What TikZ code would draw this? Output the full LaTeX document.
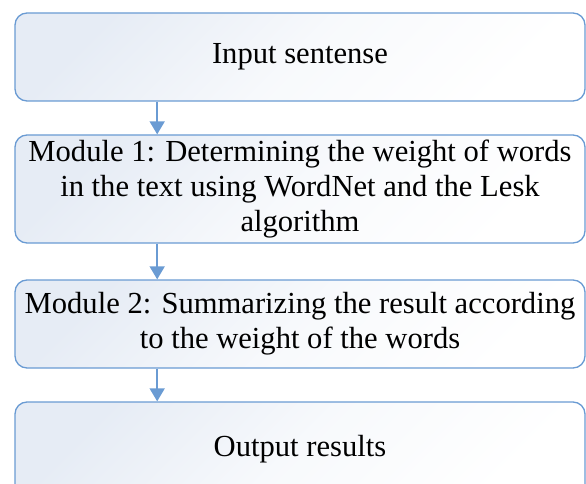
\documentclass[tikz,border=0pt]{standalone}
\usepackage{fontspec}
\setmainfont{Liberation Serif}
\usepackage{xcolor}
\usepackage{tikz}
\usetikzlibrary{positioning,arrows.meta,calc}
\definecolor{stepline}{HTML}{6A9BD3}
\definecolor{stepfill}{HTML}{E6ECF5}
\tikzset{
  % --- process boxes ---------------------------------------------------------
  stepbox/.style={rectangle,rounded corners=12pt,draw=stepline,line width=1.3pt,
                  minimum width=570pt,align=center,inner sep=0pt,
                  font=\rmfamily\fontsize{30.6}{35.2}\selectfont,
                  shading=axis,top color=stepfill,bottom color=white,
                  middle color=stepfill!30!white,shading angle=45},
  % --- connectors ------------------------------------------------------------
  flow/.style={-{Triangle[length=13pt,width=15pt]},stepline,line width=1.6pt},
}
\begin{document}
\begin{tikzpicture}[x=1pt, y=-1pt]
  \useasboundingbox (0,0) rectangle (586,484);
  \clip (0,0) rectangle (586,484);

  \node[stepbox,minimum height=88pt]  (inp)  at (300,57)  {Input sentense};
  \node[stepbox,minimum height=108pt] (mod1) at (300,189)
    {Module 1: Determining the weight of words\\
     in the text using WordNet and the Lesk\\
     algorithm};
  \node[stepbox,minimum height=88pt]  (mod2) at (300,324)
    {Module 2: Summarizing the result according\\
     to the weight of the words};
  \node[stepbox,minimum height=94pt]  (out)  at (300,449) {Output results};

  \draw[flow] ($(inp.south west)!0.25!(inp.south east)$)
           -- ($(mod1.north west)!0.25!(mod1.north east)$);
  \draw[flow] ($(mod1.south west)!0.25!(mod1.south east)$)
           -- ($(mod2.north west)!0.25!(mod2.north east)$);
  \draw[flow] ($(mod2.south west)!0.25!(mod2.south east)$)
           -- ($(out.north west)!0.25!(out.north east)$);
\end{tikzpicture}
\end{document}
